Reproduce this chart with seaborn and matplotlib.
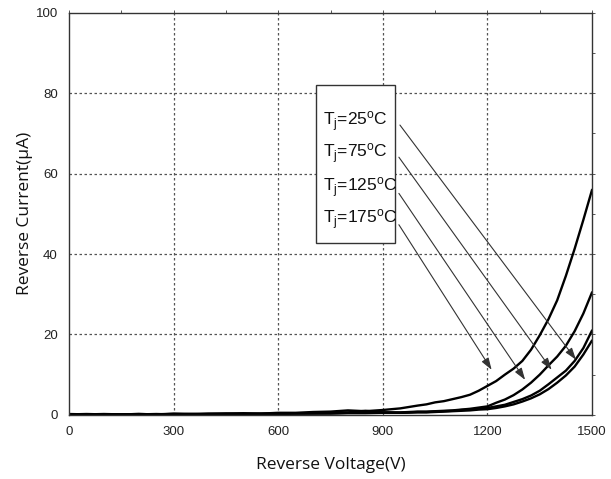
import numpy as np
import pandas as pd
import matplotlib
matplotlib.use("Agg")
import matplotlib.pyplot as plt
import seaborn as sns
from matplotlib.patches import Rectangle
from matplotlib.ticker import MultipleLocator
from matplotlib import font_manager

# ---------------- data ----------------
voltage = [0, 50, 100, 150, 200, 250, 300, 350, 400, 450, 500, 550, 600, 650, 700,
           750, 800, 850, 900, 950,
           1000, 1025, 1050, 1075, 1100, 1125, 1150, 1175, 1200, 1225, 1250, 1275,
           1300, 1325, 1350, 1375, 1400, 1425, 1450, 1475, 1500]
i_tj175 = [0.2, 0.1, 0.2, 0.1, 0.2, 0.1, 0.3, 0.2, 0.3, 0.3, 0.4, 0.3, 0.5, 0.5, 0.7,
           0.8, 1.1, 0.9, 1.2, 1.6,
           2.3, 2.6, 3.1, 3.4, 3.9, 4.4, 5.0, 6.0, 7.2, 8.4, 10.0, 11.5,
           13.4, 16.2, 19.8, 23.8, 28.5, 34.6, 41.3, 48.5, 56.0]
i_tj125 = [0.1, 0.2, 0.1, 0.1, 0.2, 0.1, 0.2, 0.2, 0.2, 0.3, 0.2, 0.3, 0.3, 0.4, 0.4,
           0.5, 0.6, 1.0, 0.6, 0.6,
           0.8, 0.8, 0.9, 1.0, 1.1, 1.3, 1.5, 1.8, 2.1, 3.0, 3.8, 4.9,
           6.3, 8.0, 10.0, 12.3, 14.5, 17.2, 20.8, 25.2, 30.5]
i_tj75 = [0.0, 0.1, 0.1, 0.0, 0.1, 0.2, 0.1, 0.1, 0.2, 0.2, 0.2, 0.2, 0.3, 0.3, 0.4,
          0.4, 0.5, 0.5, 0.6, 0.5,
          0.7, 0.7, 0.8, 0.9, 1.0, 1.2, 1.3, 1.5, 1.7, 2.1, 2.5, 3.2,
          3.9, 4.8, 6.0, 7.6, 9.3, 11.0, 13.4, 16.6, 21.0]
i_tj25 = [0.1, 0.0, 0.1, 0.1, 0.0, 0.1, 0.1, 0.2, 0.1, 0.2, 0.2, 0.2, 0.2, 0.3, 0.3,
          0.3, 0.4, 0.4, 0.5, 0.5,
          0.6, 0.6, 0.7, 0.8, 0.9, 1.0, 1.1, 1.3, 1.4, 1.7, 2.1, 2.6,
          3.3, 4.1, 5.1, 6.4, 8.0, 9.8, 12.0, 15.0, 18.5]

labels = [r"T$_\mathregular{j}$=25$^\mathregular{o}$C",
          r"T$_\mathregular{j}$=75$^\mathregular{o}$C",
          r"T$_\mathregular{j}$=125$^\mathregular{o}$C",
          r"T$_\mathregular{j}$=175$^\mathregular{o}$C"]
series_names = ["25", "75", "125", "175"]
series_vals = [i_tj25, i_tj75, i_tj125, i_tj175]

# arrow tails / heads (data coords)
arrow_tail_v = [949, 946, 946, 946]
arrow_tail_i = [72.1, 64.1, 55.1, 47.3]
arrow_head_v = [1454, 1384, 1308, 1212]
arrow_head_i = [13.7, 11.2, 8.7, 11.2]
label_v = 727
label_i = [73.0, 65.0, 56.6, 48.6]

x_ticks = [0, 300, 600, 900, 1200, 1500]
y_ticks = [0, 20, 40, 60, 80, 100]

df = pd.DataFrame({
    "Voltage": voltage * 4,
    "Current": sum(series_vals, []),
    "Tj": sum([[n] * len(voltage) for n in series_names], []),
})

# ---------------- plot ----------------
sns.set_theme(style="white")
installed = {f.name for f in font_manager.fontManager.ttflist}
narrow = "Liberation Sans Narrow" if "Liberation Sans Narrow" in installed else "Liberation Sans"
plt.rcParams["font.family"] = [narrow, "DejaVu Sans"]
plt.rcParams["mathtext.fontset"] = "custom"
plt.rcParams["mathtext.rm"] = narrow
plt.rcParams["mathtext.it"] = narrow + ":italic"
plt.rcParams["mathtext.bf"] = narrow + ":bold"

fig = plt.figure(figsize=(6.11, 4.79), dpi=100)
ax = fig.add_axes([0.113, 0.134, 0.856, 0.839])

sns.lineplot(data=df, x="Voltage", y="Current", hue="Tj",
             palette=["black"] * 4, linewidth=1.7, legend=False, ax=ax,
             estimator=None, sort=True)

ax.set_xlim(0, 1500)
ax.set_ylim(0, 100)
ax.set_xticks(x_ticks)
ax.set_yticks(y_ticks)
ax.xaxis.set_minor_locator(MultipleLocator(150))
ax.yaxis.set_minor_locator(MultipleLocator(10))

# dashed grid (only inner lines)
for v in x_ticks[1:-1]:
    ax.axvline(v, color="#555555", lw=0.9, ls=(0, (2, 2)), zorder=0)
for v in y_ticks[1:-1]:
    ax.axhline(v, color="#555555", lw=0.9, ls=(0, (2, 2)), zorder=0)

for sp in ax.spines.values():
    sp.set_color("#333333")
    sp.set_linewidth(1.0)

ax.tick_params(axis="both", which="major", direction="out", length=5, width=0.8,
               color="#333333", labelsize=9.5, labelcolor="#222222", pad=3)
ax.tick_params(axis="both", which="minor", direction="out", length=3, width=0.8,
               color="#333333")

# small ticks on top/right spines
secx = ax.secondary_xaxis("top")
secx.set_xticks(x_ticks)
secx.xaxis.set_minor_locator(MultipleLocator(150))
secx.tick_params(which="both", direction="out", length=2, width=0.7,
                 color="#555555", labeltop=False)
secx.spines["top"].set_visible(False)
secy = ax.secondary_yaxis("right")
secy.set_yticks(y_ticks)
secy.yaxis.set_minor_locator(MultipleLocator(10))
secy.tick_params(which="both", direction="out", length=2, width=0.7,
                 color="#555555", labelright=False)
secy.spines["right"].set_visible(False)

ax.set_xlabel("Reverse Voltage(V)", fontsize=12.5, family=["Open Sans", "DejaVu Sans"],
              color="#111111", labelpad=14)
ax.set_ylabel("Reverse Current(\u00b5A)", fontsize=12.5, family=["Open Sans", "DejaVu Sans"],
              color="#111111", labelpad=2)

# label box
ax.add_patch(Rectangle((707, 42.8), 228, 39.2, facecolor="white", edgecolor="#333333",
                       lw=1.0, zorder=3))
for lab, ly in zip(labels, label_i):
    ax.text(label_v, ly, lab, fontsize=12.5, va="center", ha="left", color="#111111",
            zorder=4)

for tv, ti, hv, hi in zip(arrow_tail_v, arrow_tail_i, arrow_head_v, arrow_head_i):
    ax.annotate("", xy=(hv, hi), xytext=(tv, ti),
                arrowprops=dict(arrowstyle="-|>,head_length=0.6,head_width=0.2",
                                color="#333333", lw=0.8, shrinkA=0, shrinkB=0),
                zorder=5)

fig.savefig("out.png", dpi=100)
